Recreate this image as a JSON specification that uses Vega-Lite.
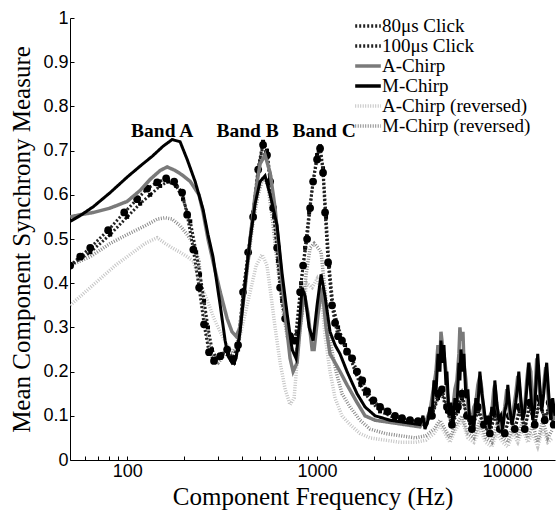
{
  "$schema": "https://vega.github.io/schema/vega-lite/v6.json",
  "width": 485,
  "height": 442,
  "autosize": {"type": "none"},
  "padding": {"left": 70, "top": 18, "right": 2, "bottom": 50},
  "background": "white",
  "config": {
    "view": {"stroke": null},
    "axis": {"domainColor": "#000", "tickColor": "#000", "labelColor": "#000", "labelFont": "Liberation Sans", "labelFontSize": 18, "titleFont": "Liberation Serif", "titleFontSize": 25, "titleFontWeight": "normal", "titleColor": "#000", "grid": false, "domainWidth": 1},
    "legend": {"orient": "none", "legendX": 288, "legendY": -2, "title": null, "symbolType": "M-1.6,0H1.6", "symbolSize": 256, "symbolStrokeWidth": 3.5, "labelFont": "Liberation Serif", "labelFontSize": 19, "labelColor": "#000", "labelOffset": 4, "rowPadding": 0, "labelLimit": 300}
  },
  "data": {"values": [
    {"s":"A-Chirp (reversed)","f":50.1,"v":0.35},{"s":"A-Chirp (reversed)","f":60.1,"v":0.38},{"s":"A-Chirp (reversed)","f":72.1,"v":0.41},{"s":"A-Chirp (reversed)","f":86.5,"v":0.44},{"s":"A-Chirp (reversed)","f":103.7,"v":0.465},{"s":"A-Chirp (reversed)","f":124.4,"v":0.49},{"s":"A-Chirp (reversed)","f":143.9,"v":0.503},{"s":"A-Chirp (reversed)","f":158.5,"v":0.49},{"s":"A-Chirp (reversed)","f":172.5,"v":0.48},{"s":"A-Chirp (reversed)","f":190,"v":0.47},{"s":"A-Chirp (reversed)","f":207,"v":0.46},{"s":"A-Chirp (reversed)","f":223,"v":0.45},{"s":"A-Chirp (reversed)","f":242,"v":0.4},{"s":"A-Chirp (reversed)","f":263.3,"v":0.363},{"s":"A-Chirp (reversed)","f":286.6,"v":0.32},{"s":"A-Chirp (reversed)","f":309,"v":0.29},{"s":"A-Chirp (reversed)","f":336,"v":0.26},{"s":"A-Chirp (reversed)","f":360.9,"v":0.244},{"s":"A-Chirp (reversed)","f":383.7,"v":0.26},{"s":"A-Chirp (reversed)","f":407.5,"v":0.31},{"s":"A-Chirp (reversed)","f":444,"v":0.38},{"s":"A-Chirp (reversed)","f":477.8,"v":0.44},{"s":"A-Chirp (reversed)","f":513.3,"v":0.465},{"s":"A-Chirp (reversed)","f":545,"v":0.44},{"s":"A-Chirp (reversed)","f":572.9,"v":0.37},{"s":"A-Chirp (reversed)","f":601,"v":0.3},{"s":"A-Chirp (reversed)","f":639,"v":0.22},{"s":"A-Chirp (reversed)","f":679,"v":0.16},{"s":"A-Chirp (reversed)","f":721,"v":0.125},{"s":"A-Chirp (reversed)","f":756.8,"v":0.14},{"s":"A-Chirp (reversed)","f":794.3,"v":0.25},{"s":"A-Chirp (reversed)","f":834,"v":0.34},{"s":"A-Chirp (reversed)","f":886,"v":0.4},{"s":"A-Chirp (reversed)","f":942,"v":0.39},{"s":"A-Chirp (reversed)","f":1000,"v":0.41},{"s":"A-Chirp (reversed)","f":1050,"v":0.38},{"s":"A-Chirp (reversed)","f":1102,"v":0.28},{"s":"A-Chirp (reversed)","f":1170,"v":0.2},{"s":"A-Chirp (reversed)","f":1244,"v":0.14},{"s":"A-Chirp (reversed)","f":1353,"v":0.1},{"s":"A-Chirp (reversed)","f":1492,"v":0.08},{"s":"A-Chirp (reversed)","f":1684,"v":0.06},{"s":"A-Chirp (reversed)","f":1901,"v":0.05},{"s":"A-Chirp (reversed)","f":2280,"v":0.045},{"s":"A-Chirp (reversed)","f":2734,"v":0.04},{"s":"A-Chirp (reversed)","f":3279,"v":0.04},{"s":"A-Chirp (reversed)","f":3745,"v":0.045},{"s":"A-Chirp (reversed)","f":4127,"v":0.06},{"s":"A-Chirp (reversed)","f":4437,"v":0.08},{"s":"A-Chirp (reversed)","f":4714,"v":0.06},{"s":"A-Chirp (reversed)","f":5008,"v":0.04},{"s":"A-Chirp (reversed)","f":5385,"v":0.07},{"s":"A-Chirp (reversed)","f":5791,"v":0.09},{"s":"A-Chirp (reversed)","f":6226,"v":0.05},{"s":"A-Chirp (reversed)","f":6695,"v":0.04},{"s":"A-Chirp (reversed)","f":7198,"v":0.07},{"s":"A-Chirp (reversed)","f":7740,"v":0.04},{"s":"A-Chirp (reversed)","f":8323,"v":0.03},{"s":"A-Chirp (reversed)","f":8841,"v":0.06},{"s":"A-Chirp (reversed)","f":9507,"v":0.04},{"s":"A-Chirp (reversed)","f":10100,"v":0.03},{"s":"A-Chirp (reversed)","f":10730,"v":0.06},{"s":"A-Chirp (reversed)","f":11399,"v":0.04},{"s":"A-Chirp (reversed)","f":12109,"v":0.07},{"s":"A-Chirp (reversed)","f":12864,"v":0.04},{"s":"A-Chirp (reversed)","f":13667,"v":0.06},{"s":"A-Chirp (reversed)","f":14518,"v":0.03},{"s":"A-Chirp (reversed)","f":15423,"v":0.07},{"s":"A-Chirp (reversed)","f":16385,"v":0.04},{"s":"A-Chirp (reversed)","f":17406,"v":0.05},

    {"s":"M-Chirp (reversed)","f":50.1,"v":0.44},{"s":"M-Chirp (reversed)","f":63.9,"v":0.46},{"s":"M-Chirp (reversed)","f":81.4,"v":0.49},{"s":"M-Chirp (reversed)","f":100,"v":0.51},{"s":"M-Chirp (reversed)","f":124.4,"v":0.53},{"s":"M-Chirp (reversed)","f":143.9,"v":0.545},{"s":"M-Chirp (reversed)","f":158.5,"v":0.548},{"s":"M-Chirp (reversed)","f":172.5,"v":0.545},{"s":"M-Chirp (reversed)","f":190,"v":0.53},{"s":"M-Chirp (reversed)","f":207,"v":0.51},{"s":"M-Chirp (reversed)","f":223,"v":0.49},{"s":"M-Chirp (reversed)","f":239,"v":0.45},{"s":"M-Chirp (reversed)","f":245,"v":0.39},{"s":"M-Chirp (reversed)","f":257,"v":0.32},{"s":"M-Chirp (reversed)","f":269.8,"v":0.26},{"s":"M-Chirp (reversed)","f":283,"v":0.23},{"s":"M-Chirp (reversed)","f":301.8,"v":0.22},{"s":"M-Chirp (reversed)","f":328,"v":0.24},{"s":"M-Chirp (reversed)","f":356.5,"v":0.24},{"s":"M-Chirp (reversed)","f":379,"v":0.26},{"s":"M-Chirp (reversed)","f":402.6,"v":0.34},{"s":"M-Chirp (reversed)","f":433.5,"v":0.45},{"s":"M-Chirp (reversed)","f":460.4,"v":0.54},{"s":"M-Chirp (reversed)","f":489.5,"v":0.6},{"s":"M-Chirp (reversed)","f":519.5,"v":0.64},{"s":"M-Chirp (reversed)","f":551.7,"v":0.62},{"s":"M-Chirp (reversed)","f":579.9,"v":0.55},{"s":"M-Chirp (reversed)","f":616,"v":0.45},{"s":"M-Chirp (reversed)","f":655,"v":0.35},{"s":"M-Chirp (reversed)","f":696,"v":0.28},{"s":"M-Chirp (reversed)","f":739,"v":0.25},{"s":"M-Chirp (reversed)","f":785,"v":0.25},{"s":"M-Chirp (reversed)","f":834,"v":0.33},{"s":"M-Chirp (reversed)","f":875.6,"v":0.42},{"s":"M-Chirp (reversed)","f":919,"v":0.48},{"s":"M-Chirp (reversed)","f":965,"v":0.49},{"s":"M-Chirp (reversed)","f":1012,"v":0.48},{"s":"M-Chirp (reversed)","f":1050,"v":0.47},{"s":"M-Chirp (reversed)","f":1102,"v":0.38},{"s":"M-Chirp (reversed)","f":1170,"v":0.27},{"s":"M-Chirp (reversed)","f":1259,"v":0.2},{"s":"M-Chirp (reversed)","f":1353,"v":0.15},{"s":"M-Chirp (reversed)","f":1492,"v":0.12},{"s":"M-Chirp (reversed)","f":1684,"v":0.09},{"s":"M-Chirp (reversed)","f":1901,"v":0.07},{"s":"M-Chirp (reversed)","f":2280,"v":0.06},{"s":"M-Chirp (reversed)","f":2734,"v":0.055},{"s":"M-Chirp (reversed)","f":3279,"v":0.05},{"s":"M-Chirp (reversed)","f":3745,"v":0.055},{"s":"M-Chirp (reversed)","f":4127,"v":0.07},{"s":"M-Chirp (reversed)","f":4437,"v":0.09},{"s":"M-Chirp (reversed)","f":4714,"v":0.07},{"s":"M-Chirp (reversed)","f":5008,"v":0.05},{"s":"M-Chirp (reversed)","f":5385,"v":0.08},{"s":"M-Chirp (reversed)","f":5791,"v":0.1},{"s":"M-Chirp (reversed)","f":6226,"v":0.06},{"s":"M-Chirp (reversed)","f":6695,"v":0.05},{"s":"M-Chirp (reversed)","f":7198,"v":0.09},{"s":"M-Chirp (reversed)","f":7740,"v":0.05},{"s":"M-Chirp (reversed)","f":8323,"v":0.04},{"s":"M-Chirp (reversed)","f":8841,"v":0.08},{"s":"M-Chirp (reversed)","f":9507,"v":0.05},{"s":"M-Chirp (reversed)","f":10100,"v":0.04},{"s":"M-Chirp (reversed)","f":10730,"v":0.08},{"s":"M-Chirp (reversed)","f":11399,"v":0.05},{"s":"M-Chirp (reversed)","f":12109,"v":0.09},{"s":"M-Chirp (reversed)","f":12864,"v":0.05},{"s":"M-Chirp (reversed)","f":13667,"v":0.08},{"s":"M-Chirp (reversed)","f":14518,"v":0.04},{"s":"M-Chirp (reversed)","f":15423,"v":0.09},{"s":"M-Chirp (reversed)","f":16385,"v":0.05},{"s":"M-Chirp (reversed)","f":17406,"v":0.07},

    {"s":"A-Chirp","f":50.1,"v":0.55},{"s":"A-Chirp","f":56.6,"v":0.555},{"s":"A-Chirp","f":66.3,"v":0.56},{"s":"A-Chirp","f":81.4,"v":0.57},{"s":"A-Chirp","f":100,"v":0.585},{"s":"A-Chirp","f":117.1,"v":0.61},{"s":"A-Chirp","f":132.2,"v":0.635},{"s":"A-Chirp","f":149.2,"v":0.655},{"s":"A-Chirp","f":162.4,"v":0.663},{"s":"A-Chirp","f":179,"v":0.655},{"s":"A-Chirp","f":194.7,"v":0.645},{"s":"A-Chirp","f":215,"v":0.63},{"s":"A-Chirp","f":239,"v":0.6},{"s":"A-Chirp","f":251,"v":0.56},{"s":"A-Chirp","f":266.5,"v":0.5},{"s":"A-Chirp","f":283,"v":0.45},{"s":"A-Chirp","f":309,"v":0.38},{"s":"A-Chirp","f":336,"v":0.32},{"s":"A-Chirp","f":356.5,"v":0.29},{"s":"A-Chirp","f":374.5,"v":0.28},{"s":"A-Chirp","f":393,"v":0.3},{"s":"A-Chirp","f":418,"v":0.39},{"s":"A-Chirp","f":444,"v":0.5},{"s":"A-Chirp","f":472,"v":0.6},{"s":"A-Chirp","f":501,"v":0.67},{"s":"A-Chirp","f":532,"v":0.69},{"s":"A-Chirp","f":566,"v":0.65},{"s":"A-Chirp","f":601,"v":0.57},{"s":"A-Chirp","f":639,"v":0.45},{"s":"A-Chirp","f":679,"v":0.33},{"s":"A-Chirp","f":721,"v":0.23},{"s":"A-Chirp","f":748,"v":0.2},{"s":"A-Chirp","f":785,"v":0.22},{"s":"A-Chirp","f":814,"v":0.3},{"s":"A-Chirp","f":854,"v":0.38},{"s":"A-Chirp","f":897,"v":0.33},{"s":"A-Chirp","f":942,"v":0.25},{"s":"A-Chirp","f":965,"v":0.25},{"s":"A-Chirp","f":1012,"v":0.33},{"s":"A-Chirp","f":1062,"v":0.39},{"s":"A-Chirp","f":1115,"v":0.3},{"s":"A-Chirp","f":1170,"v":0.24},{"s":"A-Chirp","f":1244,"v":0.22},{"s":"A-Chirp","f":1321,"v":0.2},{"s":"A-Chirp","f":1438,"v":0.17},{"s":"A-Chirp","f":1624,"v":0.13},{"s":"A-Chirp","f":1789,"v":0.1},{"s":"A-Chirp","f":2020,"v":0.09},{"s":"A-Chirp","f":2422,"v":0.085},{"s":"A-Chirp","f":2905,"v":0.08},
    {"s":"A-Chirp","f":3483,"v":0.075},{"s":"A-Chirp","f":3612,"v":0.09},{"s":"A-Chirp","f":3700,"v":0.08},{"s":"A-Chirp","f":3837,"v":0.1},{"s":"A-Chirp","f":3932,"v":0.11},{"s":"A-Chirp","f":4028,"v":0.14},{"s":"A-Chirp","f":4127,"v":0.17},{"s":"A-Chirp","f":4228,"v":0.2},{"s":"A-Chirp","f":4332,"v":0.26},{"s":"A-Chirp","f":4437,"v":0.22},{"s":"A-Chirp","f":4491,"v":0.29},{"s":"A-Chirp","f":4601,"v":0.25},{"s":"A-Chirp","f":4658,"v":0.24},{"s":"A-Chirp","f":4772,"v":0.2},{"s":"A-Chirp","f":4830,"v":0.16},{"s":"A-Chirp","f":4948,"v":0.12},{"s":"A-Chirp","f":5069,"v":0.1},{"s":"A-Chirp","f":5193,"v":0.12},{"s":"A-Chirp","f":5320,"v":0.16},{"s":"A-Chirp","f":5450,"v":0.18},{"s":"A-Chirp","f":5584,"v":0.24},{"s":"A-Chirp","f":5652,"v":0.3},{"s":"A-Chirp","f":5721,"v":0.27},{"s":"A-Chirp","f":5861,"v":0.29},{"s":"A-Chirp","f":5933,"v":0.22},{"s":"A-Chirp","f":6077,"v":0.18},{"s":"A-Chirp","f":6226,"v":0.12},{"s":"A-Chirp","f":6378,"v":0.1},{"s":"A-Chirp","f":6534,"v":0.09},{"s":"A-Chirp","f":6695,"v":0.12},{"s":"A-Chirp","f":6859,"v":0.13},{"s":"A-Chirp","f":7027,"v":0.17},{"s":"A-Chirp","f":7198,"v":0.19},{"s":"A-Chirp","f":7374,"v":0.16},{"s":"A-Chirp","f":7556,"v":0.1},{"s":"A-Chirp","f":7740,"v":0.09},{"s":"A-Chirp","f":7930,"v":0.08},{"s":"A-Chirp","f":8124,"v":0.1},{"s":"A-Chirp","f":8323,"v":0.11},{"s":"A-Chirp","f":8528,"v":0.16},{"s":"A-Chirp","f":8630,"v":0.17},{"s":"A-Chirp","f":8841,"v":0.12},{"s":"A-Chirp","f":9059,"v":0.1},{"s":"A-Chirp","f":9280,"v":0.08},{"s":"A-Chirp","f":9507,"v":0.09},{"s":"A-Chirp","f":9740,"v":0.12},{"s":"A-Chirp","f":9979,"v":0.16},{"s":"A-Chirp","f":10100,"v":0.15},{"s":"A-Chirp","f":10347,"v":0.1},{"s":"A-Chirp","f":10601,"v":0.09},{"s":"A-Chirp","f":10861,"v":0.12},{"s":"A-Chirp","f":11126,"v":0.15},{"s":"A-Chirp","f":11399,"v":0.19},{"s":"A-Chirp","f":11538,"v":0.18},{"s":"A-Chirp","f":11820,"v":0.13},{"s":"A-Chirp","f":12109,"v":0.1},{"s":"A-Chirp","f":12405,"v":0.12},{"s":"A-Chirp","f":12709,"v":0.18},{"s":"A-Chirp","f":13021,"v":0.22},{"s":"A-Chirp","f":13340,"v":0.2},{"s":"A-Chirp","f":13667,"v":0.11},{"s":"A-Chirp","f":14000,"v":0.14},{"s":"A-Chirp","f":14343,"v":0.23},{"s":"A-Chirp","f":14518,"v":0.21},{"s":"A-Chirp","f":14873,"v":0.15},{"s":"A-Chirp","f":15237,"v":0.12},{"s":"A-Chirp","f":15612,"v":0.17},{"s":"A-Chirp","f":15993,"v":0.21},{"s":"A-Chirp","f":16187,"v":0.19},{"s":"A-Chirp","f":16585,"v":0.13},{"s":"A-Chirp","f":16990,"v":0.1},{"s":"A-Chirp","f":17406,"v":0.12},{"s":"A-Chirp","f":17900,"v":0.09},

    {"s":"M-Chirp","f":50.1,"v":0.54},{"s":"M-Chirp","f":56.6,"v":0.553},{"s":"M-Chirp","f":66.3,"v":0.573},{"s":"M-Chirp","f":81.4,"v":0.605},{"s":"M-Chirp","f":100,"v":0.64},{"s":"M-Chirp","f":117.1,"v":0.665},{"s":"M-Chirp","f":135.4,"v":0.687},{"s":"M-Chirp","f":154.7,"v":0.71},{"s":"M-Chirp","f":172.5,"v":0.725},{"s":"M-Chirp","f":190,"v":0.72},{"s":"M-Chirp","f":207,"v":0.68},{"s":"M-Chirp","f":228,"v":0.63},{"s":"M-Chirp","f":251,"v":0.567},{"s":"M-Chirp","f":266.5,"v":0.51},{"s":"M-Chirp","f":283,"v":0.46},{"s":"M-Chirp","f":309,"v":0.35},{"s":"M-Chirp","f":328,"v":0.27},{"s":"M-Chirp","f":340,"v":0.235},{"s":"M-Chirp","f":356.5,"v":0.22},{"s":"M-Chirp","f":374.5,"v":0.23},{"s":"M-Chirp","f":393,"v":0.29},{"s":"M-Chirp","f":418,"v":0.4},{"s":"M-Chirp","f":444,"v":0.5},{"s":"M-Chirp","f":472,"v":0.58},{"s":"M-Chirp","f":501,"v":0.63},{"s":"M-Chirp","f":532,"v":0.643},{"s":"M-Chirp","f":566,"v":0.6},{"s":"M-Chirp","f":616,"v":0.53},{"s":"M-Chirp","f":655,"v":0.42},{"s":"M-Chirp","f":696,"v":0.33},{"s":"M-Chirp","f":739,"v":0.25},{"s":"M-Chirp","f":775,"v":0.23},{"s":"M-Chirp","f":804,"v":0.3},{"s":"M-Chirp","f":834,"v":0.39},{"s":"M-Chirp","f":865,"v":0.37},{"s":"M-Chirp","f":908,"v":0.3},{"s":"M-Chirp","f":953,"v":0.27},{"s":"M-Chirp","f":1000,"v":0.35},{"s":"M-Chirp","f":1050,"v":0.42},{"s":"M-Chirp","f":1102,"v":0.37},{"s":"M-Chirp","f":1170,"v":0.29},{"s":"M-Chirp","f":1244,"v":0.26},{"s":"M-Chirp","f":1321,"v":0.24},{"s":"M-Chirp","f":1438,"v":0.2},{"s":"M-Chirp","f":1624,"v":0.15},{"s":"M-Chirp","f":1789,"v":0.12},{"s":"M-Chirp","f":2020,"v":0.1},{"s":"M-Chirp","f":2422,"v":0.09},{"s":"M-Chirp","f":2905,"v":0.085},
    {"s":"M-Chirp","f":3483,"v":0.08},{"s":"M-Chirp","f":3612,"v":0.1},{"s":"M-Chirp","f":3700,"v":0.07},{"s":"M-Chirp","f":3837,"v":0.09},{"s":"M-Chirp","f":3932,"v":0.12},{"s":"M-Chirp","f":4028,"v":0.1},{"s":"M-Chirp","f":4127,"v":0.18},{"s":"M-Chirp","f":4228,"v":0.15},{"s":"M-Chirp","f":4332,"v":0.24},{"s":"M-Chirp","f":4437,"v":0.2},{"s":"M-Chirp","f":4491,"v":0.27},{"s":"M-Chirp","f":4601,"v":0.22},{"s":"M-Chirp","f":4658,"v":0.26},{"s":"M-Chirp","f":4772,"v":0.17},{"s":"M-Chirp","f":4830,"v":0.2},{"s":"M-Chirp","f":4948,"v":0.1},{"s":"M-Chirp","f":5069,"v":0.13},{"s":"M-Chirp","f":5193,"v":0.08},{"s":"M-Chirp","f":5320,"v":0.14},{"s":"M-Chirp","f":5450,"v":0.12},{"s":"M-Chirp","f":5584,"v":0.22},{"s":"M-Chirp","f":5652,"v":0.18},{"s":"M-Chirp","f":5721,"v":0.25},{"s":"M-Chirp","f":5861,"v":0.2},{"s":"M-Chirp","f":5933,"v":0.24},{"s":"M-Chirp","f":6077,"v":0.14},{"s":"M-Chirp","f":6226,"v":0.16},{"s":"M-Chirp","f":6378,"v":0.08},{"s":"M-Chirp","f":6534,"v":0.1},{"s":"M-Chirp","f":6695,"v":0.07},{"s":"M-Chirp","f":6859,"v":0.14},{"s":"M-Chirp","f":7027,"v":0.12},{"s":"M-Chirp","f":7198,"v":0.2},{"s":"M-Chirp","f":7374,"v":0.15},{"s":"M-Chirp","f":7556,"v":0.12},{"s":"M-Chirp","f":7740,"v":0.08},{"s":"M-Chirp","f":7930,"v":0.1},{"s":"M-Chirp","f":8124,"v":0.07},{"s":"M-Chirp","f":8323,"v":0.12},{"s":"M-Chirp","f":8528,"v":0.1},{"s":"M-Chirp","f":8630,"v":0.18},{"s":"M-Chirp","f":8841,"v":0.13},{"s":"M-Chirp","f":9059,"v":0.09},{"s":"M-Chirp","f":9280,"v":0.1},{"s":"M-Chirp","f":9507,"v":0.07},{"s":"M-Chirp","f":9740,"v":0.11},{"s":"M-Chirp","f":9979,"v":0.13},{"s":"M-Chirp","f":10100,"v":0.17},{"s":"M-Chirp","f":10347,"v":0.12},{"s":"M-Chirp","f":10601,"v":0.08},{"s":"M-Chirp","f":10861,"v":0.1},{"s":"M-Chirp","f":11126,"v":0.13},{"s":"M-Chirp","f":11399,"v":0.17},{"s":"M-Chirp","f":11538,"v":0.2},{"s":"M-Chirp","f":11820,"v":0.14},{"s":"M-Chirp","f":12109,"v":0.09},{"s":"M-Chirp","f":12405,"v":0.11},{"s":"M-Chirp","f":12709,"v":0.16},{"s":"M-Chirp","f":13021,"v":0.22},{"s":"M-Chirp","f":13340,"v":0.15},{"s":"M-Chirp","f":13667,"v":0.09},{"s":"M-Chirp","f":14000,"v":0.12},{"s":"M-Chirp","f":14343,"v":0.2},{"s":"M-Chirp","f":14518,"v":0.24},{"s":"M-Chirp","f":14873,"v":0.17},{"s":"M-Chirp","f":15237,"v":0.11},{"s":"M-Chirp","f":15612,"v":0.15},{"s":"M-Chirp","f":15993,"v":0.2},{"s":"M-Chirp","f":16187,"v":0.22},{"s":"M-Chirp","f":16585,"v":0.15},{"s":"M-Chirp","f":16990,"v":0.09},{"s":"M-Chirp","f":17406,"v":0.14},{"s":"M-Chirp","f":17900,"v":0.1},

    {"s":"100μs Click","f":50.1,"v":0.44},{"s":"100μs Click","f":63.9,"v":0.47},{"s":"100μs Click","f":81.4,"v":0.51},{"s":"100μs Click","f":100,"v":0.55},{"s":"100μs Click","f":117.1,"v":0.58},{"s":"100μs Click","f":132.2,"v":0.6},{"s":"100μs Click","f":149.2,"v":0.62},{"s":"100μs Click","f":164.4,"v":0.63},{"s":"100μs Click","f":181.2,"v":0.62},{"s":"100μs Click","f":197,"v":0.59},{"s":"100μs Click","f":215,"v":0.54},{"s":"100μs Click","f":230.8,"v":0.47},{"s":"100μs Click","f":242,"v":0.42},{"s":"100μs Click","f":254,"v":0.36},{"s":"100μs Click","f":266.5,"v":0.3},{"s":"100μs Click","f":279.7,"v":0.25},{"s":"100μs Click","f":294.6,"v":0.23},{"s":"100μs Click","f":316.6,"v":0.24},{"s":"100μs Click","f":340,"v":0.24},{"s":"100μs Click","f":365.3,"v":0.22},{"s":"100μs Click","f":383.7,"v":0.25},{"s":"100μs Click","f":407.5,"v":0.36},{"s":"100μs Click","f":433.5,"v":0.46},{"s":"100μs Click","f":460.4,"v":0.56},{"s":"100μs Click","f":489.5,"v":0.66},{"s":"100μs Click","f":519.5,"v":0.72},{"s":"100μs Click","f":545,"v":0.7},{"s":"100μs Click","f":566,"v":0.64},{"s":"100μs Click","f":594,"v":0.55},{"s":"100μs Click","f":623,"v":0.45},{"s":"100μs Click","f":655,"v":0.36},{"s":"100μs Click","f":696,"v":0.3},{"s":"100μs Click","f":739,"v":0.27},{"s":"100μs Click","f":785,"v":0.29},{"s":"100μs Click","f":824,"v":0.4},{"s":"100μs Click","f":865,"v":0.48},{"s":"100μs Click","f":908,"v":0.56},{"s":"100μs Click","f":953,"v":0.63},{"s":"100μs Click","f":1000,"v":0.69},{"s":"100μs Click","f":1037,"v":0.71},{"s":"100μs Click","f":1075,"v":0.66},{"s":"100μs Click","f":1115,"v":0.55},{"s":"100μs Click","f":1157,"v":0.44},{"s":"100μs Click","f":1213,"v":0.35},{"s":"100μs Click","f":1290,"v":0.3},{"s":"100μs Click","f":1404,"v":0.26},{"s":"100μs Click","f":1500,"v":0.23},{"s":"100μs Click","f":1585,"v":0.2},{"s":"100μs Click","f":1690,"v":0.17},{"s":"100μs Click","f":1789,"v":0.15},{"s":"100μs Click","f":1950,"v":0.13},{"s":"100μs Click","f":2146,"v":0.11},{"s":"100μs Click","f":2573,"v":0.095},{"s":"100μs Click","f":3086,"v":0.09},{"s":"100μs Click","f":3700,"v":0.085},{"s":"100μs Click","f":4028,"v":0.1},{"s":"100μs Click","f":4332,"v":0.14},{"s":"100μs Click","f":4546,"v":0.15},{"s":"100μs Click","f":4830,"v":0.11},{"s":"100μs Click","f":5131,"v":0.08},{"s":"100μs Click","f":5517,"v":0.11},{"s":"100μs Click","f":5791,"v":0.14},{"s":"100μs Click","f":6151,"v":0.1},{"s":"100μs Click","f":6534,"v":0.07},{"s":"100μs Click","f":7027,"v":0.11},{"s":"100μs Click","f":7556,"v":0.08},{"s":"100μs Click","f":8124,"v":0.06},{"s":"100μs Click","f":8630,"v":0.1},{"s":"100μs Click","f":9168,"v":0.07},{"s":"100μs Click","f":9740,"v":0.06},{"s":"100μs Click","f":10347,"v":0.1},{"s":"100μs Click","f":10992,"v":0.07},{"s":"100μs Click","f":11677,"v":0.11},{"s":"100μs Click","f":12405,"v":0.07},{"s":"100μs Click","f":13179,"v":0.12},{"s":"100μs Click","f":14000,"v":0.08},{"s":"100μs Click","f":14873,"v":0.13},{"s":"100μs Click","f":15800,"v":0.09},{"s":"100μs Click","f":16785,"v":0.12},{"s":"100μs Click","f":17619,"v":0.08},

    {"s":"80μs Click","f":50.1,"v":0.44},{"s":"80μs Click","f":56.6,"v":0.46},{"s":"80μs Click","f":63.9,"v":0.48},{"s":"80μs Click","f":79.4,"v":0.52},{"s":"80μs Click","f":96.5,"v":0.56},{"s":"80μs Click","f":112.9,"v":0.59},{"s":"80μs Click","f":127.4,"v":0.614},{"s":"80μs Click","f":143.9,"v":0.628},{"s":"80μs Click","f":160.4,"v":0.637},{"s":"80μs Click","f":176.8,"v":0.63},{"s":"80μs Click","f":194.7,"v":0.605},{"s":"80μs Click","f":207,"v":0.555},{"s":"80μs Click","f":223,"v":0.476},{"s":"80μs Click","f":239.3,"v":0.39},{"s":"80μs Click","f":254,"v":0.307},{"s":"80μs Click","f":269.8,"v":0.244},{"s":"80μs Click","f":286.6,"v":0.224},{"s":"80μs Click","f":309,"v":0.235},{"s":"80μs Click","f":336,"v":0.25},{"s":"80μs Click","f":360.9,"v":0.228},{"s":"80μs Click","f":383.7,"v":0.26},{"s":"80μs Click","f":407.5,"v":0.38},{"s":"80μs Click","f":433.5,"v":0.47},{"s":"80μs Click","f":460.4,"v":0.55},{"s":"80μs Click","f":489.5,"v":0.657},{"s":"80μs Click","f":519.5,"v":0.713},{"s":"80μs Click","f":545,"v":0.69},{"s":"80μs Click","f":566,"v":0.63},{"s":"80μs Click","f":587,"v":0.57},{"s":"80μs Click","f":616,"v":0.48},{"s":"80μs Click","f":639,"v":0.39},{"s":"80μs Click","f":679,"v":0.32},{"s":"80μs Click","f":721,"v":0.28},{"s":"80μs Click","f":766,"v":0.27},{"s":"80μs Click","f":814,"v":0.38},{"s":"80μs Click","f":844,"v":0.44},{"s":"80μs Click","f":886,"v":0.5},{"s":"80μs Click","f":919,"v":0.57},{"s":"80μs Click","f":953,"v":0.63},{"s":"80μs Click","f":1000,"v":0.68},{"s":"80μs Click","f":1037,"v":0.705},{"s":"80μs Click","f":1075,"v":0.65},{"s":"80μs Click","f":1102,"v":0.56},{"s":"80μs Click","f":1143,"v":0.447},{"s":"80μs Click","f":1199,"v":0.35},{"s":"80μs Click","f":1244,"v":0.31},{"s":"80μs Click","f":1290,"v":0.28},{"s":"80μs Click","f":1353,"v":0.27},{"s":"80μs Click","f":1438,"v":0.245},{"s":"80μs Click","f":1530,"v":0.23},{"s":"80μs Click","f":1624,"v":0.2},{"s":"80μs Click","f":1730,"v":0.18},{"s":"80μs Click","f":1833,"v":0.155},{"s":"80μs Click","f":1980,"v":0.135},{"s":"80μs Click","f":2146,"v":0.12},{"s":"80μs Click","f":2350,"v":0.11},{"s":"80μs Click","f":2573,"v":0.1},{"s":"80μs Click","f":2800,"v":0.095},{"s":"80μs Click","f":3086,"v":0.09},{"s":"80μs Click","f":3400,"v":0.088},{"s":"80μs Click","f":3700,"v":0.085},{"s":"80μs Click","f":4028,"v":0.1},{"s":"80μs Click","f":4332,"v":0.15},{"s":"80μs Click","f":4546,"v":0.16},{"s":"80μs Click","f":4830,"v":0.12},{"s":"80μs Click","f":5131,"v":0.08},{"s":"80μs Click","f":5517,"v":0.12},{"s":"80μs Click","f":5791,"v":0.15},{"s":"80μs Click","f":6151,"v":0.1},{"s":"80μs Click","f":6534,"v":0.07},{"s":"80μs Click","f":7027,"v":0.12},{"s":"80μs Click","f":7556,"v":0.08},{"s":"80μs Click","f":8124,"v":0.06},{"s":"80μs Click","f":8630,"v":0.11},{"s":"80μs Click","f":9168,"v":0.07},{"s":"80μs Click","f":9740,"v":0.06},{"s":"80μs Click","f":10347,"v":0.1},{"s":"80μs Click","f":10992,"v":0.07},{"s":"80μs Click","f":11677,"v":0.12},{"s":"80μs Click","f":12405,"v":0.07},{"s":"80μs Click","f":13179,"v":0.13},{"s":"80μs Click","f":14000,"v":0.08},{"s":"80μs Click","f":14873,"v":0.14},{"s":"80μs Click","f":15800,"v":0.09},{"s":"80μs Click","f":16785,"v":0.13},{"s":"80μs Click","f":17619,"v":0.08}
  ]},
  "encoding": {
    "x": {"field": "f", "type": "quantitative", "scale": {"type": "log", "domain": [50, 17900], "nice": false},
      "axis": {"title": "Component Frequency (Hz)", "values": [60,70,80,90,100,200,300,400,500,600,700,800,900,1000,2000,3000,4000,5000,6000,7000,8000,9000,10000],
        "labelExpr": "datum.value == 100 || datum.value == 1000 || datum.value == 10000 ? datum.value + '' : ''",
        "labelOverlap": false, "labelFlush": false, "tickSize": -4, "labelPadding": 6, "titlePadding": 4}},
    "y": {"field": "v", "type": "quantitative", "scale": {"domain": [0, 1], "nice": false},
      "axis": {"title": "Mean Component Synchrony Measure", "values": [0,0.1,0.2,0.3,0.4,0.5,0.6,0.7,0.8,0.9,1], "format": ".1~f", "tickSize": -4, "labelPadding": 6, "titlePadding": 8}}
  },
  "layer": [
    {"transform": [{"filter": {"field": "s", "equal": "A-Chirp (reversed)"}}],
     "mark": {"type": "line", "strokeWidth": 3.5, "clip": true},
     "encoding": {
       "color": {"field": "s", "type": "nominal",
         "scale": {"domain": ["80μs Click","100μs Click","A-Chirp","M-Chirp","A-Chirp (reversed)","M-Chirp (reversed)"], "range": ["#222","#222","#7a7a7a","#000000","#c4c4c4","#8a8a8a"]}},
       "strokeDash": {"field": "s", "type": "nominal",
         "scale": {"domain": ["80μs Click","100μs Click","A-Chirp","M-Chirp","A-Chirp (reversed)","M-Chirp (reversed)"], "range": [[2,2],[2,2],[1,0],[1,0],[1,1.5],[1,1.5]]}}}},
    {"transform": [{"filter": {"field": "s", "equal": "M-Chirp (reversed)"}}],
     "mark": {"type": "line", "strokeWidth": 3.5, "clip": true},
     "encoding": {"color": {"field": "s", "type": "nominal"}, "strokeDash": {"field": "s", "type": "nominal"}}},
    {"transform": [{"filter": {"field": "s", "equal": "100μs Click"}}],
     "mark": {"type": "line", "strokeWidth": 3, "clip": true},
     "encoding": {"color": {"field": "s", "type": "nominal"}, "strokeDash": {"field": "s", "type": "nominal"}}},
    {"transform": [{"filter": {"field": "s", "equal": "100μs Click"}}],
     "mark": {"type": "point", "shape": "square", "filled": true, "color": "#000", "size": 16, "opacity": 1, "clip": true}},
    {"transform": [{"filter": {"field": "s", "equal": "80μs Click"}}],
     "mark": {"type": "line", "strokeWidth": 3, "clip": true},
     "encoding": {"color": {"field": "s", "type": "nominal"}, "strokeDash": {"field": "s", "type": "nominal"}}},
    {"transform": [{"filter": {"field": "s", "equal": "80μs Click"}}],
     "mark": {"type": "point", "shape": "circle", "filled": true, "color": "#000", "size": 60, "opacity": 1, "clip": true}},
    {"transform": [{"filter": {"field": "s", "equal": "A-Chirp"}}],
     "mark": {"type": "line", "strokeWidth": 3.5, "clip": true},
     "encoding": {"color": {"field": "s", "type": "nominal"}, "strokeDash": {"field": "s", "type": "nominal"}}},
    {"transform": [{"filter": {"field": "s", "equal": "M-Chirp"}}],
     "mark": {"type": "line", "strokeWidth": 3, "clip": true},
     "encoding": {"color": {"field": "s", "type": "nominal"}, "strokeDash": {"field": "s", "type": "nominal"}}},
    {"data": {"values": [{"label": "Band A", "f": 153, "v": 0.745}, {"label": "Band B", "f": 431, "v": 0.745}, {"label": "Band C", "f": 1089, "v": 0.745}]},
     "mark": {"type": "text", "font": "Liberation Serif", "fontWeight": "bold", "fontSize": 19.5, "color": "#000", "align": "center", "baseline": "middle"},
     "encoding": {"text": {"field": "label"}}}
  ]
}
